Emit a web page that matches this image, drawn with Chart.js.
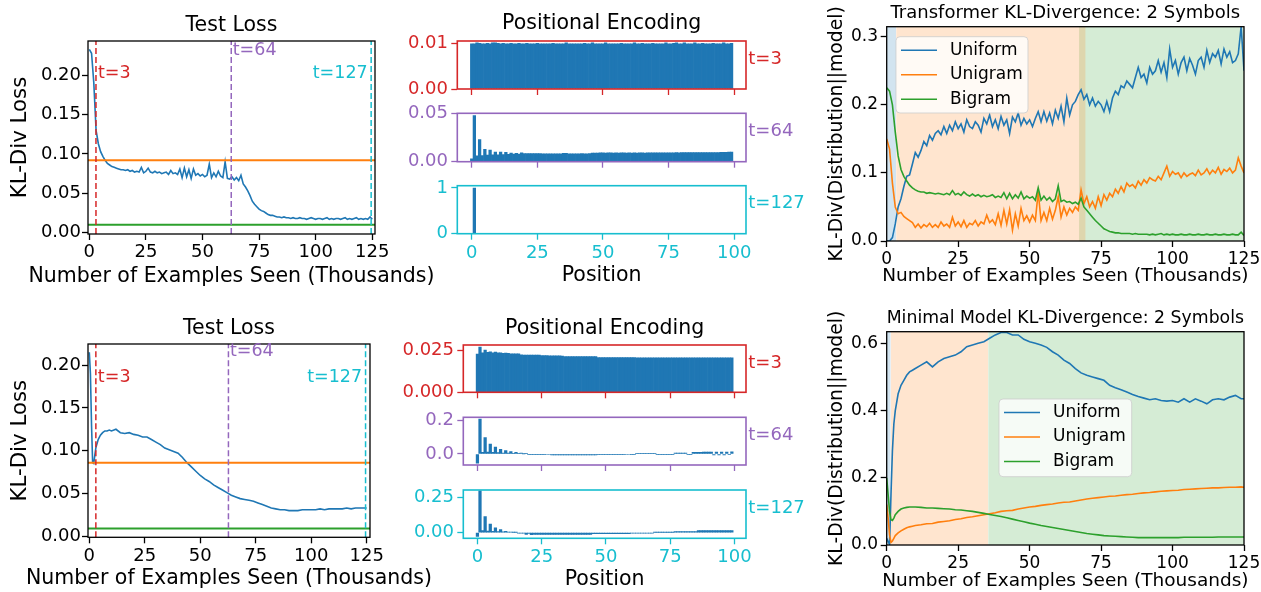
<!DOCTYPE html>
<html>
<head>
<meta charset="utf-8">
<title>Test loss, positional encoding and KL-divergence</title>
<script src="https://cdn.jsdelivr.net/npm/chart.js@4.4.1/dist/chart.umd.min.js"></script>
<style>
  html, body { margin: 0; padding: 0; background: #fff; }
  #fig { position: relative; width: 1261px; height: 592px; overflow: hidden; }
  #fig canvas { position: absolute; left: 0; top: 0; }
</style>
</head>
<body>
<div id="fig"></div>
<script>
// ---------- data ----------
const stepTicks = [0, 25, 50, 75, 100, 125];
const posTicks = [0, 25, 50, 75, 100];
const lossTicks = [0, 0.05, 0.10, 0.15, 0.20];
const klTicksTop = [0, 0.1, 0.2, 0.3];
const klTicksBottom = [0, 0.2, 0.4, 0.6];

const snapshotSteps = [2.95, 62.7, 124.5];
const snapshotNames = ['t=3', 't=64', 't=127'];

// top row: one point per thousand examples
const topLoss = [
  0.233,0.228,0.190,0.130,0.113,0.103,0.097,0.092,0.088,0.086,
  0.084,0.083,0.082,0.081,0.080,0.080,0.079,0.080,0.078,0.079,
  0.077,0.078,0.077,0.083,0.076,0.078,0.082,0.077,0.076,0.078,
  0.076,0.077,0.075,0.076,0.077,0.074,0.079,0.075,0.076,0.074,
  0.081,0.070,0.082,0.071,0.080,0.069,0.081,0.073,0.075,0.072,
  0.074,0.071,0.073,0.087,0.070,0.076,0.071,0.078,0.072,0.070,
  0.090,0.069,0.068,0.071,0.067,0.070,0.066,0.073,0.062,0.058,
  0.053,0.047,0.040,0.036,0.033,0.030,0.028,0.027,0.025,0.023,
  0.022,0.022,0.021,0.020,0.020,0.019,0.020,0.019,0.019,0.018,
  0.019,0.018,0.018,0.019,0.018,0.018,0.017,0.018,0.019,0.018,
  0.017,0.018,0.018,0.017,0.018,0.019,0.017,0.018,0.017,0.018,
  0.018,0.017,0.018,0.019,0.017,0.018,0.017,0.018,0.019,0.017,
  0.018,0.017,0.018,0.017,0.020,0.017
];
const topRefLevels = [0.092, 0.010];   // unigram, bigram

const topUniform = [
  0.000,0.000,0.005,0.025,0.050,0.062,0.080,0.095,0.097,0.113,
  0.130,0.123,0.133,0.146,0.140,0.155,0.148,0.158,0.162,0.156,
  0.168,0.158,0.170,0.162,0.175,0.165,0.172,0.160,0.178,0.168,
  0.165,0.175,0.170,0.160,0.180,0.172,0.185,0.168,0.178,0.165,
  0.183,0.170,0.178,0.158,0.182,0.175,0.188,0.170,0.180,0.172,
  0.178,0.168,0.180,0.190,0.175,0.190,0.176,0.188,0.172,0.192,
  0.180,0.198,0.175,0.210,0.185,0.200,0.205,0.215,0.222,0.208,
  0.215,0.200,0.210,0.198,0.205,0.200,0.190,0.205,0.190,0.210,
  0.220,0.215,0.228,0.225,0.235,0.230,0.225,0.240,0.255,0.240,
  0.245,0.232,0.255,0.245,0.250,0.265,0.248,0.262,0.240,0.282,
  0.255,0.265,0.245,0.262,0.270,0.250,0.268,0.258,0.245,0.265,
  0.270,0.255,0.280,0.262,0.275,0.270,0.280,0.260,0.282,0.270,
  0.278,0.262,0.265,0.275,0.315,0.250
];
const topUnigram = [
  0.150,0.135,0.085,0.050,0.040,0.042,0.036,0.033,0.030,0.027,
  0.020,0.025,0.019,0.024,0.021,0.026,0.020,0.024,0.020,0.028,
  0.022,0.025,0.020,0.035,0.022,0.028,0.021,0.030,0.020,0.026,
  0.024,0.030,0.022,0.028,0.025,0.038,0.027,0.031,0.024,0.040,
  0.023,0.045,0.025,0.046,0.016,0.040,0.022,0.048,0.030,0.037,
  0.028,0.038,0.030,0.072,0.030,0.042,0.030,0.048,0.032,0.045,
  0.065,0.035,0.050,0.038,0.048,0.042,0.050,0.045,0.075,0.055,
  0.065,0.050,0.058,0.048,0.065,0.052,0.068,0.060,0.070,0.065,
  0.076,0.070,0.080,0.072,0.085,0.080,0.083,0.078,0.088,0.082,
  0.090,0.085,0.093,0.090,0.088,0.095,0.090,0.100,0.110,0.095,
  0.102,0.098,0.100,0.093,0.100,0.095,0.098,0.100,0.096,0.104,
  0.097,0.100,0.106,0.098,0.104,0.100,0.108,0.098,0.105,0.102,
  0.107,0.100,0.104,0.122,0.110,0.100
];
const topBigram = [
  0.225,0.220,0.200,0.160,0.125,0.105,0.095,0.088,0.082,0.078,
  0.075,0.073,0.072,0.072,0.070,0.071,0.070,0.069,0.070,0.069,
  0.068,0.070,0.068,0.074,0.068,0.070,0.067,0.072,0.068,0.066,
  0.069,0.066,0.068,0.065,0.067,0.065,0.066,0.068,0.064,0.066,
  0.064,0.071,0.062,0.070,0.062,0.068,0.063,0.072,0.062,0.066,
  0.063,0.065,0.060,0.078,0.060,0.066,0.060,0.064,0.058,0.062,
  0.081,0.058,0.060,0.057,0.058,0.055,0.057,0.054,0.063,0.050,
  0.045,0.040,0.035,0.030,0.026,0.022,0.018,0.016,0.014,0.013,
  0.012,0.012,0.011,0.011,0.011,0.011,0.010,0.011,0.010,0.010,
  0.010,0.010,0.009,0.010,0.009,0.010,0.011,0.009,0.010,0.009,
  0.010,0.009,0.009,0.010,0.009,0.009,0.010,0.009,0.009,0.010,
  0.009,0.009,0.010,0.009,0.009,0.010,0.009,0.009,0.010,0.009,
  0.009,0.010,0.009,0.009,0.013,0.008
];
const topPhaseFrom = [0, 3.3, 67.3];
const topPhaseTo = [3.3, 69.6, 125];

// bottom row: uneven sampling (thousands of examples)
const bottomSteps = [
  0,0.5,1,1.5,2,2.5,3,4,5,6,7,8,9,10,
  12,14,16,18,20,22,24,26,28,30,
  32,34,36,38,40,42,44,46,48,50,
  52,54,56,58,60,62,64,66,68,70,
  72,74,76,78,80,82,84,86,88,90,
  92,94,96,98,100,102,104,106,108,110,
  112,114,116,118,120,122,124,125
];
const bottomLoss = [
  0.215,0.190,0.130,0.086,0.085,0.095,0.104,0.113,0.118,0.121,0.123,0.123,0.124,0.123,
  0.125,0.121,0.120,0.121,0.119,0.118,0.116,0.116,0.113,0.110,
  0.107,0.103,0.101,0.099,0.097,0.092,0.086,0.081,0.076,0.071,
  0.067,0.064,0.060,0.057,0.054,0.051,0.048,0.046,0.044,0.043,
  0.042,0.041,0.039,0.037,0.035,0.033,0.032,0.031,0.031,0.030,
  0.030,0.030,0.031,0.031,0.031,0.031,0.032,0.031,0.032,0.032,
  0.032,0.032,0.033,0.032,0.033,0.033,0.033,0.033
];
const bottomRefLevels = [0.086, 0.009];
const bottomUniform = [
  0.020,0.010,0.002,0.150,0.280,0.360,0.400,0.450,0.475,0.490,0.505,0.515,0.520,0.525,
  0.535,0.545,0.530,0.545,0.555,0.560,0.565,0.575,0.590,0.595,
  0.600,0.605,0.615,0.625,0.632,0.632,0.625,0.625,0.612,0.605,
  0.600,0.595,0.588,0.575,0.565,0.550,0.540,0.525,0.512,0.505,
  0.500,0.495,0.490,0.475,0.468,0.462,0.455,0.448,0.442,0.437,
  0.432,0.435,0.430,0.428,0.430,0.425,0.435,0.425,0.435,0.428,
  0.420,0.432,0.435,0.432,0.440,0.445,0.435,0.435
];
const bottomUnigram = [
  0.120,0.080,0.030,0.008,0.012,0.020,0.028,0.036,0.042,0.047,0.051,0.054,0.056,0.058,
  0.060,0.063,0.064,0.068,0.070,0.072,0.076,0.078,0.082,0.084,
  0.087,0.090,0.093,0.096,0.100,0.102,0.103,0.107,0.110,0.113,
  0.115,0.118,0.120,0.122,0.125,0.127,0.128,0.131,0.134,0.137,
  0.139,0.141,0.143,0.145,0.146,0.148,0.150,0.151,0.153,0.155,
  0.156,0.158,0.160,0.161,0.162,0.163,0.165,0.166,0.167,0.168,
  0.169,0.170,0.170,0.171,0.172,0.172,0.173,0.172
];
const bottomBigram = [
  0.200,0.150,0.100,0.075,0.073,0.080,0.090,0.100,0.107,0.110,0.112,0.113,0.113,0.113,
  0.112,0.110,0.110,0.109,0.108,0.107,0.105,0.104,0.102,0.100,
  0.097,0.094,0.091,0.088,0.085,0.081,0.077,0.073,0.069,0.065,
  0.062,0.058,0.055,0.052,0.049,0.046,0.043,0.040,0.037,0.034,
  0.032,0.030,0.028,0.027,0.026,0.025,0.024,0.023,0.022,0.022,
  0.022,0.022,0.022,0.022,0.022,0.022,0.023,0.023,0.023,0.023,
  0.023,0.023,0.024,0.024,0.024,0.024,0.024,0.024
];
const bottomPhaseFrom = [0, 1.4, 35.5];
const bottomPhaseTo = [1.4, 35.5, 125];

// positional encodings, positions 0..99
const topPE3 = [
  0.0099,0.0099,0.0101,0.0100,0.0099,0.0099,0.0100,0.0099,0.0101,0.0101,
  0.0100,0.0099,0.0100,0.0099,0.0099,0.0100,0.0099,0.0099,0.0100,0.0099,
  0.0099,0.0100,0.0099,0.0099,0.0099,0.0100,0.0099,0.0099,0.0099,0.0099,
  0.0099,0.0100,0.0099,0.0099,0.0099,0.0099,0.0101,0.0099,0.0099,0.0099,
  0.0099,0.0099,0.0099,0.0100,0.0099,0.0099,0.0101,0.0099,0.0099,0.0099,
  0.0099,0.0101,0.0099,0.0099,0.0099,0.0099,0.0099,0.0100,0.0099,0.0099,
  0.0099,0.0099,0.0101,0.0099,0.0099,0.0100,0.0099,0.0099,0.0099,0.0100,
  0.0099,0.0099,0.0099,0.0099,0.0101,0.0099,0.0099,0.0100,0.0101,0.0099,
  0.0099,0.0101,0.0099,0.0099,0.0099,0.0101,0.0099,0.0099,0.0100,0.0099,
  0.0099,0.0099,0.0100,0.0099,0.0099,0.0099,0.0101,0.0099,0.0099,0.0100
];
const topPE64 = [
  0.0030,0.0480,0.0060,0.0230,0.0065,0.0130,0.0070,0.0120,0.0072,0.0100,
  0.0072,0.0100,0.0075,0.0098,0.0078,0.0090,0.0080,0.0088,0.0080,0.0092,
  0.0084,0.0085,0.0084,0.0085,0.0084,0.0085,0.0084,0.0082,0.0082,0.0082,
  0.0082,0.0083,0.0082,0.0082,0.0083,0.0088,0.0088,0.0083,0.0083,0.0083,
  0.0083,0.0083,0.0084,0.0083,0.0083,0.0084,0.0090,0.0090,0.0090,0.0092,
  0.0092,0.0090,0.0092,0.0092,0.0091,0.0092,0.0090,0.0092,0.0092,0.0090,
  0.0092,0.0090,0.0092,0.0090,0.0092,0.0092,0.0090,0.0093,0.0093,0.0093,
  0.0093,0.0092,0.0093,0.0093,0.0092,0.0093,0.0093,0.0093,0.0094,0.0093,
  0.0096,0.0094,0.0096,0.0096,0.0094,0.0096,0.0095,0.0094,0.0096,0.0096,
  0.0096,0.0094,0.0096,0.0096,0.0096,0.0097,0.0098,0.0098,0.0099,0.0099
];
const topPE127 = [
  0,1,0,0,0,0,0,0,0,0, 0,0,0,0,0,0,0,0,0,0, 0,0,0,0,0,0,0,0,0,0,
  0,0,0,0,0,0,0,0,0,0, 0,0,0,0,0,0,0,0,0,0, 0,0,0,0,0,0,0,0,0,0,
  0,0,0,0,0,0,0,0,0,0, 0,0,0,0,0,0,0,0,0,0, 0,0,0,0,0,0,0,0,0,0,
  0,0,0,0,0,0,0,0,0,0
];
const bottomPE3 = [
  0.0226,0.0268,0.0234,0.0250,0.0236,0.0240,0.0234,0.0238,0.0233,0.0234,
  0.0230,0.0232,0.0230,0.0228,0.0228,0.0228,0.0227,0.0222,0.0221,0.0221,
  0.0221,0.0220,0.0220,0.0220,0.0220,0.0217,0.0217,0.0217,0.0216,0.0216,
  0.0216,0.0216,0.0216,0.0215,0.0211,0.0211,0.0211,0.0211,0.0211,0.0211,
  0.0211,0.0211,0.0211,0.0211,0.0211,0.0211,0.0211,0.0205,0.0205,0.0205,
  0.0205,0.0205,0.0205,0.0205,0.0205,0.0205,0.0205,0.0205,0.0205,0.0205,
  0.0205,0.0205,0.0204,0.0204,0.0204,0.0204,0.0204,0.0204,0.0204,0.0204,
  0.0204,0.0204,0.0204,0.0204,0.0204,0.0204,0.0204,0.0204,0.0204,0.0204,
  0.0204,0.0204,0.0204,0.0204,0.0204,0.0204,0.0204,0.0204,0.0204,0.0204,
  0.0204,0.0204,0.0204,0.0204,0.0204,0.0204,0.0204,0.0204,0.0204,0.0204
];
const bottomPE64 = [
  -0.055,0.210,0.010,0.098,0.012,0.060,0.010,0.042,0.008,0.028,
  0.006,0.020,0.005,0.015,0.004,0.010,0.002,0.006,0.001,0.004,
  -0.002,-0.002,-0.002,-0.002,-0.002,-0.002,-0.002,-0.003,-0.003,-0.005,
  -0.005,-0.005,-0.005,-0.005,-0.005,-0.005,-0.005,-0.005,-0.005,-0.005,
  -0.005,-0.005,-0.005,-0.005,-0.005,-0.005,-0.005,-0.004,-0.004,-0.004,
  -0.004,-0.004,-0.004,-0.004,-0.004,-0.004,-0.004,-0.004,-0.003,-0.003,
  -0.002,-0.002,0.002,0.002,0.002,0.002,0.002,0.002,0.002,0.002,
  -0.004,-0.004,-0.004,-0.004,-0.004,-0.004,-0.004,0.005,0.005,0.005,
  0.005,0.005,-0.004,-0.004,0.010,0.010,0.010,0.010,0.011,0.011,
  0.011,0.011,-0.005,0.012,-0.005,0.012,-0.005,0.012,-0.004,0.013
];
const bottomPE127 = [
  -0.026,0.296,0.015,0.113,0.012,0.061,0.010,0.035,0.008,0.022,
  0.005,0.010,0.003,0.003,0.002,0.001,-0.003,-0.003,-0.004,-0.012,
  -0.006,-0.014,-0.012,-0.012,-0.012,-0.012,-0.012,-0.012,-0.012,-0.012,
  -0.012,-0.012,-0.012,-0.012,-0.012,-0.012,-0.012,-0.012,-0.012,-0.012,
  -0.012,-0.012,-0.012,-0.012,-0.012,-0.008,-0.008,-0.008,-0.008,-0.008,
  -0.008,-0.008,-0.008,-0.008,-0.008,-0.008,-0.008,-0.008,-0.008,-0.008,
  -0.004,-0.004,-0.004,-0.004,-0.004,-0.004,-0.004,-0.004,-0.004,0.002,
  0.002,0.002,0.002,0.002,0.002,0.002,0.002,0.008,0.008,0.008,
  0.008,0.008,0.008,0.008,0.008,0.008,0.015,0.015,0.015,0.015,
  0.015,0.015,0.015,0.015,0.015,0.015,0.015,0.015,0.015,0.015
];

// ---------- setup ----------
const W = 1261, H = 592;
const FONT = "'DejaVu Sans', 'Liberation Sans', sans-serif";
const C = { blue: '#1f77b4', orange: '#ff7f0e', green: '#2ca02c', red: '#d62728', purple: '#9467bd', cyan: '#17becf' };
const SNAP_COLORS = [C.red, C.purple, C.cyan];
const PHASE_FILL = ['rgba(31,119,180,0.2)', 'rgba(255,127,14,0.2)', 'rgba(44,160,44,0.2)'];
const STEPS_LABEL = 'Number of Examples Seen (Thousands)';

Chart.defaults.font.family = FONT;
Chart.defaults.color = '#000';
Chart.defaults.animation = false;
Chart.defaults.responsive = false;
Chart.defaults.events = [];
Chart.defaults.plugins.legend.display = false;
Chart.defaults.plugins.tooltip.enabled = false;

// box round the plot area (matplotlib spines)
const framePlugin = {
  id: 'frame',
  defaults: { color: '#000', width: 1.3 },
  afterDatasetsDraw(chart, args, opts) {
    const a = chart.chartArea, ctx = chart.ctx;
    ctx.save();
    ctx.strokeStyle = opts.color;
    ctx.lineWidth = opts.width;
    ctx.strokeRect(a.left, a.top, a.right - a.left, a.bottom - a.top);
    ctx.restore();
  }
};

// legend drawn inside the plot area
const boxLegendPlugin = {
  id: 'boxLegend',
  defaults: { box: null },
  afterDatasetsDraw(chart, args, opts) {
    const b = opts.box;
    if (!b) return;
    const a = chart.chartArea, ctx = chart.ctx;
    const x = a.left + b.dx, y = a.top + b.dy;
    ctx.save();
    ctx.beginPath();
    if (ctx.roundRect) ctx.roundRect(x, y, b.w, b.h, 4); else ctx.rect(x, y, b.w, b.h);
    ctx.fillStyle = 'rgba(255,255,255,0.8)';
    ctx.fill();
    ctx.strokeStyle = 'rgba(204,204,204,0.8)';
    ctx.lineWidth = 1;
    ctx.stroke();
    ctx.font = '17px ' + FONT;
    ctx.textBaseline = 'middle';
    chart.data.datasets.filter(d => d.label).forEach((d, i) => {
      const yy = y + 13.5 + i * 24.5;
      ctx.strokeStyle = d.borderColor;
      ctx.lineWidth = 1.6;
      ctx.beginPath();
      ctx.moveTo(x + 5, yy);
      ctx.lineTo(x + 41, yy);
      ctx.stroke();
      ctx.fillStyle = '#000';
      ctx.fillText(d.label, x + 54, yy);
    });
    ctx.restore();
  }
};

// text labels: t=3 marks, side tags and the long axis titles
const notesPlugin = {
  id: 'notes',
  defaults: { items: [] },
  afterDatasetsDraw(chart, args, opts) {
    const { ctx, chartArea: a, scales } = chart;
    ctx.save();
    ctx.textBaseline = 'middle';
    (opts.items || []).forEach(it => {
      let px, py, rot = 0, align = it.align || 'left';
      if (it.mode === 'side') { px = a.right + it.dx; py = a.top + it.dy; }
      else if (it.mode === 'below') { px = (a.left + a.right) / 2; py = a.bottom + it.dy; align = 'center'; }
      else if (it.mode === 'leftv') { px = a.left + it.dx; py = (a.top + a.bottom) / 2; align = 'center'; rot = -Math.PI / 2; }
      else { px = scales.x.getPixelForValue(it.x) + it.dx; py = scales.y.getPixelForValue(it.y); }
      ctx.save();
      ctx.translate(px, py);
      ctx.rotate(rot);
      ctx.font = it.size + 'px ' + FONT;
      ctx.fillStyle = it.color || '#000';
      ctx.textAlign = align;
      ctx.fillText(it.text, 0, 0);
      ctx.restore();
    });
    ctx.restore();
  }
};
Chart.register(framePlugin, boxLegendPlugin, notesPlugin);

const fig = document.getElementById('fig');
function makeCanvas() {
  const c = document.createElement('canvas');
  c.width = W; c.height = H;
  fig.appendChild(c);
  return c;
}

// place the plot area at box {l,t,r,b}
function layoutFor(box, yW, xH, title) {
  const padding = { left: box.l - yW, right: W - box.r, top: box.t, bottom: H - box.b - xH };
  let titleOpts = { display: false };
  if (title) {
    const lh = title.size * 1.2;
    padding.top = title.mid - lh / 2;
    titleOpts = {
      display: true, text: title.text, color: '#000', fullSize: false,
      font: { size: title.size, weight: 'normal' },
      padding: { top: 0, bottom: box.t - padding.top - lh }
    };
  }
  return { layout: { padding, autoPadding: false }, title: titleOpts };
}

function xAxis(o) {
  const col = o.color || '#000';
  return {
    type: 'linear', bounds: 'data', min: o.min, max: o.max, offset: false,
    afterBuildTicks: s => { s.ticks = o.ticks.map(v => ({ value: v })); },
    afterFit: s => { s.height = o.h; s.paddingLeft = 0; s.paddingRight = 0; },
    ticks: {
      autoSkip: false, maxRotation: 0, minRotation: 0, font: { size: o.size }, color: col, padding: o.pad,
      callback: v => o.hide ? '' : v.toFixed(o.dec || 0)
    },
    grid: { drawOnChartArea: false, drawTicks: true, tickLength: 6, tickWidth: 1.3, tickColor: col, offset: false },
    border: { display: false },
    title: o.title ? { display: true, text: o.title, color: '#000', font: { size: o.titleSize }, padding: 0 } : { display: false }
  };
}

function yAxis(o) {
  const col = o.color || '#000';
  return {
    type: 'linear', position: 'left', bounds: 'data', min: o.min, max: o.max,
    afterBuildTicks: s => { s.ticks = o.ticks.map(v => ({ value: v })); },
    afterFit: s => { s.width = o.w; s.paddingTop = 0; s.paddingBottom = 0; },
    ticks: { autoSkip: false, font: { size: o.size }, color: col, padding: o.pad, callback: v => v.toFixed(o.dec) },
    grid: { drawOnChartArea: false, drawTicks: true, tickLength: 6, tickWidth: 1.3, tickColor: col },
    border: { display: false },
    title: o.title ? { display: true, text: o.title, color: '#000', font: { size: o.titleSize }, padding: 0 } : { display: false }
  };
}

const seriesXY = (xs, ys) => ys.map((y, i) => ({ x: xs[i], y }));
const seriesIdx = ys => ys.map((y, i) => ({ x: i, y }));
const lineDs = (data, color, width, extra) => Object.assign({
  type: 'line', data, borderColor: color, backgroundColor: color, borderWidth: width,
  pointRadius: 0, tension: 0, fill: false
}, extra || {});

// ---------- Test Loss panels ----------
function lossChart(p) {
  const L = layoutFor(p.box, p.yW, 30, { text: 'Test Loss', size: 20.5, mid: p.titleMid });
  const datasets = [];
  snapshotSteps.forEach((s, i) => datasets.push(
    lineDs([{ x: s, y: p.y[0] }, { x: s, y: p.y[1] }], SNAP_COLORS[i], 1.5, { borderDash: [6, 3], order: 1 })));
  datasets.push(lineDs([{ x: p.x[0], y: p.refs[0] }, { x: p.x[1], y: p.refs[0] }], C.orange, 2, { order: 2 }));
  datasets.push(lineDs([{ x: p.x[0], y: p.refs[1] }, { x: p.x[1], y: p.refs[1] }], C.green, 2, { order: 2 }));
  datasets.push(lineDs(seriesXY(p.steps, p.loss), C.blue, 1.6, { order: 3 }));
  new Chart(makeCanvas(), {
    type: 'line',
    data: { datasets },
    options: {
      layout: L.layout,
      plugins: {
        title: L.title,
        notes: { items: [
          { x: snapshotSteps[0], y: p.noteY[0], dx: 2, text: snapshotNames[0], color: C.red, size: 17.5 },
          { x: snapshotSteps[1], y: p.noteY[1], dx: 1.5, text: snapshotNames[1], color: C.purple, size: 17.5 },
          { x: snapshotSteps[2], y: p.noteY[0], dx: -3.5, text: snapshotNames[2], color: C.cyan, size: 17.5, align: 'right' },
          { mode: 'below', dy: p.labelDy, text: STEPS_LABEL, size: 20.5 }
        ] }
      },
      scales: {
        x: xAxis({ min: p.x[0], max: p.x[1], ticks: stepTicks, h: 30, size: 18, pad: 2 }),
        y: yAxis({ min: p.y[0], max: p.y[1], ticks: lossTicks, w: p.yW, size: 18, pad: 1, dec: 2,
          title: 'KL-Div Loss', titleSize: 21.3 })
      }
    }
  });
}

// ---------- positional encoding bars ----------
function peChart(p) {
  const L = layoutFor(p.box, 60, p.xH, p.title ? { text: 'Positional Encoding', size: 20.5, mid: p.titleMid } : null);
  new Chart(makeCanvas(), {
    type: 'bar',
    data: { datasets: [{
      data: seriesIdx(p.values), backgroundColor: C.blue, borderWidth: 0,
      barPercentage: 1, categoryPercentage: 1
    }] },
    options: {
      layout: L.layout,
      plugins: {
        title: L.title,
        frame: { color: p.color, width: 1.6 },
        notes: { items: [{ mode: 'side', dx: 2.3, dy: 18, text: p.tag, color: p.color, size: 18 }] }
      },
      scales: {
        x: xAxis({ min: -5.5, max: 104.5, ticks: posTicks, h: p.xH, size: 18, pad: 2.5, color: p.color,
          hide: !p.xTitle, title: p.xTitle, titleSize: 20.5 }),
        y: yAxis({ min: p.y[0], max: p.y[1], ticks: p.yTicks, w: 60, size: 18, pad: 3.3, dec: p.dec, color: p.color })
      }
    }
  });
}

// ---------- KL-divergence panels ----------
function klChart(p) {
  const L = layoutFor(p.box, 61, 30, { text: p.title, size: 18, mid: p.titleMid });
  const pts = ys => p.steps ? seriesXY(p.steps, ys) : seriesIdx(ys);
  const datasets = [
    lineDs(pts(p.uniform), C.blue, 1.6, { label: 'Uniform', order: 3 }),
    lineDs(pts(p.unigram), C.orange, 1.6, { label: 'Unigram', order: 2 }),
    lineDs(pts(p.bigram), C.green, 1.6, { label: 'Bigram', order: 1 })
  ];
  p.phaseFrom.forEach((f, i) => datasets.push({
    type: 'line', data: [{ x: f, y: p.y[1] }, { x: p.phaseTo[i], y: p.y[1] }],
    fill: 'origin', backgroundColor: PHASE_FILL[i], borderColor: 'transparent', borderWidth: 0,
    pointRadius: 0, order: 10
  }));
  new Chart(makeCanvas(), {
    type: 'line',
    data: { datasets },
    options: {
      layout: L.layout,
      plugins: {
        title: L.title,
        boxLegend: { box: p.legend },
        notes: { items: [
          { mode: 'below', dy: p.labelDy, text: STEPS_LABEL, size: 18.5 },
          { mode: 'leftv', dx: -50, text: 'KL-Div(Distribution||model)', size: 18.8 }
        ] }
      },
      scales: {
        x: xAxis({ min: 0, max: 125, ticks: stepTicks, h: 30, size: 17, pad: 2 }),
        y: yAxis({ min: p.y[0], max: p.y[1], ticks: p.yTicks, w: 61, size: 17, pad: 2.7, dec: 1 })
      }
    }
  });
}

const topSteps = topLoss.map((_, i) => i);

lossChart({ box: { l: 88, t: 41, r: 375, b: 234 }, yW: 80.3, titleMid: 25.3, labelDy: 43,
  x: [-0.57, 126.2], y: [-0.0017, 0.2436], steps: topSteps, loss: topLoss, refs: topRefLevels,
  noteY: [0.2025, 0.232] });
lossChart({ box: { l: 88, t: 344, r: 370, b: 537.3 }, yW: 80, titleMid: 328.8, labelDy: 41.7,
  x: [-0.59, 126.5], y: [-0.0012, 0.2246], steps: bottomSteps, loss: bottomLoss, refs: bottomRefLevels,
  noteY: [0.185, 0.216] });

peChart({ box: { l: 457.3, t: 41, r: 746, b: 89 }, xH: 0, title: true, titleMid: 23.7,
  values: topPE3, y: [0, 0.0105], yTicks: [0, 0.01], dec: 2, color: C.red, tag: 't=3' });
peChart({ box: { l: 457.3, t: 113.3, r: 746, b: 161.7 }, xH: 0,
  values: topPE64, y: [0, 0.0504], yTicks: [0, 0.05], dec: 2, color: C.purple, tag: 't=64' });
peChart({ box: { l: 457.3, t: 185.7, r: 746, b: 233.7 }, xH: 54.4, xTitle: 'Position',
  values: topPE127, y: [0, 1.05], yTicks: [0, 1], dec: 0, color: C.cyan, tag: 't=127' });

peChart({ box: { l: 463.3, t: 345, r: 746, b: 392.3 }, xH: 0, title: true, titleMid: 328.7,
  values: bottomPE3, y: [0, 0.028], yTicks: [0, 0.025], dec: 3, color: C.red, tag: 't=3' });
peChart({ box: { l: 463.3, t: 417.3, r: 746, b: 465 }, xH: 0,
  values: bottomPE64, y: [-0.066, 0.22], yTicks: [0, 0.2], dec: 1, color: C.purple, tag: 't=64' });
peChart({ box: { l: 463.3, t: 490, r: 746, b: 538.3 }, xH: 53.5, xTitle: 'Position',
  values: bottomPE127, y: [-0.04, 0.302], yTicks: [0, 0.25], dec: 2, color: C.cyan, tag: 't=127' });

klChart({ box: { l: 886.7, t: 26.7, r: 1244, b: 241 }, titleMid: 13.3, labelDy: 35.5,
  title: 'Transformer KL-Divergence: 2 Symbols', y: [0, 0.3147], yTicks: klTicksTop,
  uniform: topUniform, unigram: topUnigram, bigram: topBigram,
  phaseFrom: topPhaseFrom, phaseTo: topPhaseTo,
  legend: { dx: 9.3, dy: 10, w: 132, h: 76.3 } });
klChart({ box: { l: 886.7, t: 331.7, r: 1244, b: 545 }, titleMid: 318.3, labelDy: 36.3,
  title: 'Minimal Model KL-Divergence: 2 Symbols', y: [0, 0.6346], yTicks: klTicksBottom,
  steps: bottomSteps, uniform: bottomUniform, unigram: bottomUnigram, bigram: bottomBigram,
  phaseFrom: bottomPhaseFrom, phaseTo: bottomPhaseTo,
  legend: { dx: 112.3, dy: 67.3, w: 132.7, h: 77.7 } });
</script>
</body>
</html>
